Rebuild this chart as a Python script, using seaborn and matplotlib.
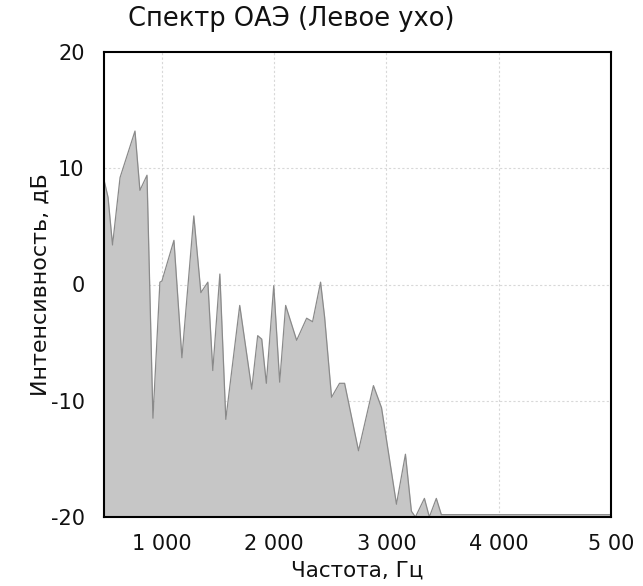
import numpy as np
import pandas as pd
import matplotlib
matplotlib.use("Agg")
import matplotlib.pyplot as plt
import seaborn as sns

# Data
freq = [484, 520, 560, 627, 760, 804, 867, 920, 982, 1000, 1107, 1178, 1284, 1347,
        1409, 1453, 1516, 1569, 1693, 1800, 1853, 1889, 1930, 1996, 2049, 2102,
        2200, 2289, 2342, 2413, 2449, 2511, 2582, 2627, 2751, 2884, 2956, 3089,
        3169, 3222, 3258, 3338, 3382, 3444, 3489, 4000, 4500, 5000]
level = [9.0, 7.5, 3.4, 9.2, 13.2, 8.1, 9.4, -11.5, 0.2, 0.3, 3.8, -6.3, 5.9, -0.7,
         0.2, -7.4, 0.9, -11.6, -1.8, -9.0, -4.4, -4.7, -8.5, -0.1, -8.4, -1.8,
         -4.8, -2.9, -3.2, 0.2, -2.8, -9.7, -8.5, -8.5, -14.3, -8.7, -10.6, -18.9,
         -14.6, -19.5, -20.0, -18.4, -20.0, -18.4, -19.8, -19.8, -19.8, -19.8]

title = "Спектр ОАЭ (Левое ухо)"
xlabel = "Частота, Гц"
ylabel = "Интенсивность, дБ"
xticks = [1000, 2000, 3000, 4000, 5000]
xticklabels = ["1 000", "2 000", "3 000", "4 000", "5 00"]
yticks = [-20, -10, 0, 10, 20]

df = pd.DataFrame({"freq": freq, "level": level})

sns.set_style("white")
plt.rcParams["font.family"] = ["DejaVu Sans"]
plt.rcParams["axes.unicode_minus"] = False

fig = plt.figure(figsize=(6.43, 5.86), dpi=100)
ax = fig.add_axes([104/643, 1 - 517/586, (611 - 104)/643, (517 - 52)/586])

ax.fill_between(df["freq"], df["level"], -20, color="#c6c6c6", linewidth=0, zorder=2)
sns.lineplot(data=df, x="freq", y="level", ax=ax, color="#8a8a8a", linewidth=0.9, zorder=3)

ax.set_xlim(484, 5000)
ax.set_ylim(-20, 20)
ax.set_xticks(xticks)
ax.set_xticklabels(xticklabels)
ax.set_yticks(yticks)

for v in [1000, 2000, 3000, 4000]:
    ax.axvline(v, color="#d8d8d8", linestyle=(0, (2, 2)), linewidth=0.8, zorder=1)
for v in [-10, 0, 10]:
    ax.axhline(v, color="#d8d8d8", linestyle=(0, (2, 2)), linewidth=0.8, zorder=1)

for s in ax.spines.values():
    s.set_visible(True)
    s.set_color("black")
    s.set_linewidth(1.5)
    s.set_zorder(4)

ax.tick_params(axis="both", length=0, labelsize=15, colors="#111111")
ax.tick_params(axis="x", pad=12)
ax.tick_params(axis="y", pad=14)
ax.set_xlabel(xlabel, fontsize=15.5, labelpad=5, color="#111111")
ax.set_ylabel(ylabel, fontsize=16, labelpad=0, color="#111111")
fig.text(291/643, 1 - 19/586, title, ha="center", va="center", fontsize=18.5,
         color="#111111")

fig.savefig("out.png", dpi=100)
